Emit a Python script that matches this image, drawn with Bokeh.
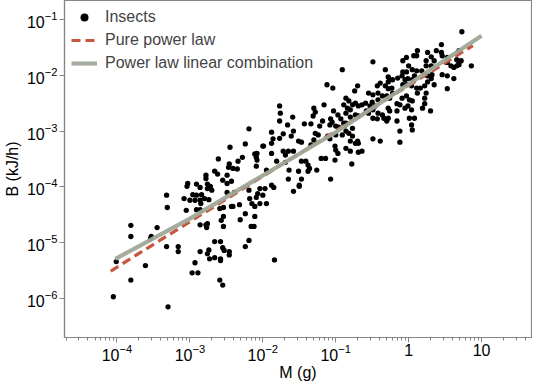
import numpy as np
from bokeh.plotting import figure
from bokeh.models import Range1d, FixedTicker, LogTickFormatter, Legend, LegendItem
from bokeh.embed import file_html
from bokeh.resources import INLINE

# ---- data (log10 of body mass in g, log10 of metabolic rate in kJ/h) ----
log10_mass = [
    -4.05, -4.01, -3.81, -3.81, -3.81, -3.61, -3.53, -3.54, -3.45, -3.32, -3.31, -3.32, -3.30,
    -3.16, -3.16, -3.05, -3.04, -3.08, -3.00, -2.93, -2.86, -2.80, -2.74, -2.96, -2.91, -2.86, -2.85,
    -2.86, -2.78, -2.77, -2.86, -2.74, -2.73, -2.93, -2.97, -2.89, -2.91,
    -3.03, -2.91, -2.86, -2.76, -2.72, -2.76, -2.84, -2.70, -2.78, -2.78, -2.66, -2.62, -2.55, -2.49,
    -2.43, -2.46, -2.47, -2.41, -2.35, -2.61, -2.45, -2.24, -2.19, -2.00, -2.11, -2.09, -2.28, -2.34,
    -2.09, -2.49,
    -2.59, -2.54, -2.43, -2.41, -2.32, -2.19, -2.04, -1.97, -1.85, -1.88, -2.07, -2.09, -2.15, -2.11,
    -1.95, -1.58, -1.50, -2.54, -2.57, -2.54, -2.76, -2.24, -2.31, -2.11, -2.16, -2.12, -2.66, -2.58,
    -2.55, -2.53, -2.46, -2.46, -2.76, -2.66, -2.58, -2.58, -2.19, -2.24, -1.84, -2.59, -2.55, -2.39,
    -2.49, -2.18, -2.04, -2.00,
    -0.91, -1.12, -1.04, -1.77, -1.76, -1.30, -1.28, -1.16, -1.03, -0.89, -1.59, -1.31, -1.07, -1.05,
    -1.08, -0.93, -0.89, -0.88, -1.77, -1.66, -1.43, -1.34, -1.22, -1.18, -1.00, -0.96, -1.58, -1.88,
    -1.72, -1.77, -1.86, -1.88, -1.61, -1.51, -1.47, -1.28, -1.24, -1.30, -1.34, -1.11, -1.08, -1.00,
    -0.91, -0.77, -1.01, -1.00, -0.97, -1.99, -1.88, -1.72, -1.69, -1.65, -1.58, -2.08, -1.81, -1.69,
    -1.47, -1.41, -1.38, -1.36, -1.20, -1.14, -1.01, -1.64, -1.38, -1.51, -2.08, -1.95, -0.97, -1.26,
    -1.65, -1.47, -1.50, -0.86, -0.80, -0.69, -0.78, -1.07, -0.73,
    0.12, 0.11, 0.07, -0.03, -0.08, 0.26, 0.31, 0.24, 0.24, 0.31, -0.49, 0.00, 0.05, 0.11,
    -0.03, -0.08, -0.32, 0.18, 0.22, 0.26, -0.28, -0.26, -0.28, -0.22, -0.15, -0.09, -0.05, -0.01,
    0.05, 0.08, 0.32, -0.70, -0.43, -0.39, -0.32, -0.28, -0.23, -0.08, -0.03, 0.04, 0.11, 0.16,
    0.22, 0.26, 0.31, -0.74, -0.55, -0.49, -0.42, -0.36, -0.30, -0.26, -0.22, -0.09, -0.03, 0.01,
    0.05, 0.12, 0.22, 0.24, -0.86, -0.82, -0.77, -0.73, -0.84, -0.80, -0.69, -0.64, -0.59, -0.50,
    -0.53, -0.46, -0.42, -0.58, -0.55, -0.49, -0.86, -0.80, -0.73, -0.69, -0.42, -0.36, -0.28, -0.26,
    -0.16, -0.12, -0.16, -0.34, -0.28, -0.30, -0.49, -0.43, -0.05, -0.01, 0.04, 0.01, 0.08, 0.22,
    0.19, 0.30, -0.16, 0.04, 0.05, -0.86, -0.77, -0.86, -0.82, -0.12, -0.80, -0.70, -0.69, -0.49,
    -0.39, -0.12, -0.64,
    0.73, 0.45, 0.86, 0.69, 0.66, 0.69, 0.69, 0.72, 0.38, 0.45, 0.46, 0.53, 0.35, 0.53, 0.58, 0.62,
    0.66, 0.46, 0.53, 0.62, 0.35, 0.53,
]
log10_rate = [
    -5.97, -5.34, -4.69, -4.89, -5.67, -5.41, -4.89, -4.93, -4.73, -4.15, -4.37, -5.07, -6.15,
    -5.07, -5.16, -4.42, -3.99, -4.21, -4.24, -4.24, -4.24, -4.21, -4.23, -4.14, -4.15, -4.41, -4.30,
    -4.68, -4.68, -4.73, -5.16, -5.13, -5.29, -5.36, -5.54, -5.54, -4.41,
    -3.94, -3.95, -4.01, -3.95, -3.99, -4.03, -4.14, -4.06, -3.79, -3.85, -3.72, -3.77, -3.88, -3.94,
    -3.90, -3.59, -3.65, -3.67, -3.68, -3.50, -3.29, -3.23, -2.96, -3.27, -3.41, -3.47, -3.47, -3.54,
    -3.63, -3.79,
    -4.39, -4.37, -4.35, -4.35, -4.32, -4.06, -4.03, -4.03, -4.01, -3.97, -4.12, -4.19, -4.30, -4.35,
    -4.30, -4.08, -3.99, -4.53, -4.60, -4.71, -4.66, -4.48, -4.59, -4.53, -4.71, -4.71, -4.98, -4.98,
    -5.09, -5.14, -5.16, -5.22, -5.20, -5.27, -5.29, -5.32, -4.96, -5.07, -5.31, -5.67, -5.76, -4.10,
    -4.10, -4.21, -4.30, -4.15,
    -1.90, -2.17, -2.23, -2.55, -2.68, -2.59, -2.66, -2.53, -2.64, -2.53, -2.75, -2.73, -2.78, -2.84,
    -2.89, -2.78, -2.86, -2.91, -2.82, -2.89, -2.87, -2.87, -2.91, -2.82, -2.91, -2.93, -3.00, -3.02,
    -3.05, -3.13, -3.14, -3.22, -3.09, -3.18, -3.20, -3.04, -3.07, -3.16, -3.25, -3.09, -3.14, -3.07,
    -3.07, -3.09, -3.27, -3.34, -3.40, -3.27, -3.40, -3.36, -3.43, -3.36, -3.36, -3.40, -3.54, -3.56,
    -3.54, -3.54, -3.61, -3.67, -3.49, -3.49, -3.52, -3.70, -3.72, -3.72, -3.52, -3.70, -2.71, -3.70,
    -3.86, -3.86, -3.97, -3.31, -3.36, -3.38, -3.59, -3.86, -3.22,
    -1.56, -1.65, -1.65, -1.68, -1.74, -1.59, -1.67, -1.74, -1.83, -1.83, -1.76, -1.83, -1.90, -1.92,
    -1.94, -1.94, -1.90, -1.92, -1.99, -2.01, -2.03, -2.08, -2.12, -2.08, -2.05, -2.01, -2.08, -2.06,
    -2.08, -2.01, -1.99, -2.19, -2.19, -2.14, -2.19, -2.24, -2.23, -2.17, -2.17, -2.19, -2.23, -2.23,
    -2.19, -2.12, -2.06, -2.28, -2.32, -2.35, -2.32, -2.37, -2.37, -2.41, -2.32, -2.41, -2.37, -2.44,
    -2.46, -2.32, -2.41, -2.32, -2.41, -2.46, -2.53, -2.50, -2.59, -2.62, -2.55, -2.53, -2.50, -2.48,
    -2.55, -2.55, -2.44, -2.64, -2.68, -2.62, -2.68, -2.75, -2.71, -2.73, -2.68, -2.71, -2.59, -2.64,
    -2.51, -2.53, -2.64, -2.77, -2.77, -2.82, -2.77, -2.78, -2.59, -2.55, -2.62, -2.77, -2.77, -2.51,
    -2.59, -2.64, -2.82, -2.89, -2.98, -2.86, -2.95, -3.00, -3.04, -3.00, -3.18, -3.18, -3.22, -3.14,
    -3.18, -3.20, -3.36,
    -1.22, -1.45, -1.83, -1.56, -1.72, -1.77, -1.81, -1.74, -1.56, -1.59, -1.65, -1.68, -1.74, -1.77,
    -1.83, -1.86, -1.83, -1.99, -2.01, -2.06, -2.17, -2.24,
]

pure_mass = [8.2e-5, 7.6]
pure_rate = [3.1e-6, 0.034]

combo_mass = [9.5e-5, 1e-3, 1e-2, 1e-1, 1.0, 10.0]
combo_rate = [5.1e-6, 2.7e-5, 1.6e-4, 9.5e-4, 6.9e-3, 0.051]

x_major = [1e-4, 1e-3, 1e-2, 1e-1, 1.0, 10.0]
y_major = [1e-6, 1e-5, 1e-4, 1e-3, 1e-2, 1e-1]

mass = 10 ** np.array(log10_mass)
rate = 10 ** np.array(log10_rate)

FONT = "Liberation Sans"
AXIS_GRAY = "#858585"

p = figure(width=532, height=383, x_axis_type="log", y_axis_type="log",
           x_range=Range1d(10 ** -4.72, 10 ** 1.685),
           y_range=Range1d(10 ** -6.70, 10 ** -0.66),
           output_backend="svg", toolbar_location=None,
           min_border_left=57, min_border_right=1, min_border_top=0, min_border_bottom=40)

p.grid.visible = False
p.outline_line_color = AXIS_GRAY
p.outline_line_width = 1.2

x_minor = [k * 10.0 ** d for d in range(-5, 2) for k in range(2, 10)]
p.xaxis.ticker = FixedTicker(ticks=x_major, minor_ticks=x_minor)
p.yaxis.ticker = FixedTicker(ticks=y_major, minor_ticks=[])
p.xaxis.formatter = LogTickFormatter()
p.yaxis.formatter = LogTickFormatter()
p.xaxis.major_label_overrides = {1.0: "1", 10.0: "10"}

for ax in (p.xaxis, p.yaxis):
    ax.axis_line_color = AXIS_GRAY
    ax.axis_line_width = 1.2
    ax.major_tick_line_color = AXIS_GRAY
    ax.minor_tick_line_color = AXIS_GRAY
    ax.major_tick_out = 5
    ax.major_tick_in = 0
    ax.minor_tick_out = 3
    ax.minor_tick_in = 0
    ax.major_label_text_font = FONT
    ax.major_label_text_font_size = "16px"
    ax.major_label_text_color = "black"
    ax.axis_label_text_font = FONT
    ax.axis_label_text_font_size = "16px"
    ax.axis_label_text_font_style = "normal"
    ax.axis_label_text_color = "black"

p.xaxis.major_label_standoff = 1
p.yaxis.major_label_standoff = 2
p.xaxis.axis_label = "M (g)"
p.yaxis.axis_label = "B (kJ/h)"
p.xaxis.axis_label_standoff = 0
p.yaxis.axis_label_standoff = 3

r_pts = p.scatter(mass, rate, size=5.3, color="black", line_width=0)
r_pure = p.line(pure_mass, pure_rate, line_color="#c8553d", line_width=3.2, line_dash="9 5")
r_combo = p.line(combo_mass, combo_rate, line_color="#9ea898", line_width=4.2, line_alpha=0.95)

legend = Legend(items=[
    LegendItem(label="Insects", renderers=[r_pts]),
    LegendItem(label="Pure power law", renderers=[r_pure]),
    LegendItem(label="Power law linear combination", renderers=[r_combo]),
], location="top_left")
legend.border_line_alpha = 0
legend.background_fill_alpha = 0
legend.margin = 0
legend.padding = 7
legend.spacing = 3
legend.glyph_width = 26
legend.label_standoff = 8
legend.label_text_font = FONT
legend.label_text_font_size = "16px"
p.add_layout(legend)

open("out.html", "w").write(file_html(p, INLINE))
